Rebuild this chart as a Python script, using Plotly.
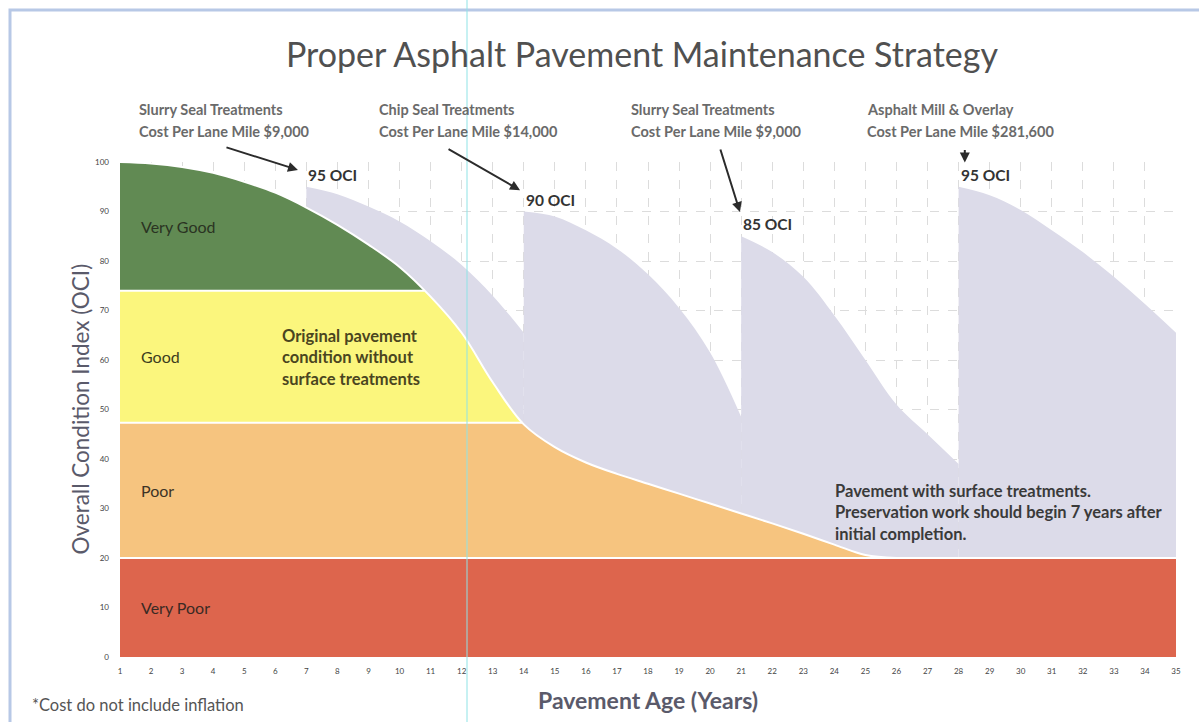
import plotly.graph_objects as go

# ---------------- data ----------------
# Original pavement condition (no surface treatments), OCI by pavement age
years_original = list(range(1, 27))
oci_original = [100, 99.7, 99, 97.8, 96, 93.8, 90.8, 87.3, 83.3, 78.8,
                72.8, 65.5, 55.5, 47, 42.4, 39.3, 37, 35, 33, 31,
                29, 27, 24.9, 22.7, 20.6, 20]

# Pavement with surface treatments: one decay segment after each treatment
treated_years = [list(range(7, 15)), list(range(14, 22)),
                 list(range(21, 29)), list(range(28, 36))]
treated_oci = [[95, 93.5, 91, 88, 84, 79.2, 73, 65.5],
               [90, 89, 86.2, 82.5, 77.3, 70.5, 61.5, 48.5],
               [85, 81.8, 76.8, 69, 60, 51, 45, 39],
               [95, 93.3, 90.3, 86.2, 81.8, 76.8, 71.3, 65.5]]

# Condition rating bands
band_names = ["Very Poor", "Poor", "Good", "Very Good"]
band_lo = [0, 20, 47.3, 74]
band_hi = [20, 47.3, 74, 100]

# Treatments
treat_year = [7, 14, 21, 28]
treat_oci = [95, 90, 85, 95]
treat_name = ["Slurry Seal Treatments", "Chip Seal Treatments",
              "Slurry Seal Treatments", "Asphalt Mill & Overlay"]
treat_cost = ["$9,000", "$14,000", "$9,000", "$281,600"]

x_ticks = list(range(1, 36))
y_ticks = list(range(0, 101, 10))

# ---------------- styling ----------------
FONT = "Lato, 'Open Sans', sans-serif"
band_colors = ["#dd654d", "#f6c47f", "#fbf67d", "#618a53"]
band_text = ["#3a2a24", "#3d3326", "#3d3d1e", "#2a3322"]
treated_color = "#dcdbe9"
grey_text = "#6a6a6a"
dark_text = "#3a3a3a"

# treatment header label placement (x in years) and arrow geometry
header_x = [1.55, 9.27, 17.39, 24.99]
arrow_dx = [-0.27, -0.12, -0.04, 0.2]
arrow_dy = [3.4, 4.3, 4.9, 4.9]
arrow_ax = [-73, -73, -20, 0]
arrow_ay = [-23, -42, -64, -14]


def band_edge(xs, ys, lo, hi):
    """Upper edge of a rating band: the curve capped at hi, until it falls to lo."""
    px, py = [], []
    for i, (x, y) in enumerate(zip(xs, ys)):
        if i > 0:
            x0, y0 = xs[i - 1], ys[i - 1]
            for level in (hi, lo):
                if (y0 - level) * (y - level) < 0:
                    px.append(x0 + (level - y0) * (x - x0) / (y - y0))
                    py.append(level)
        if y >= lo:
            px.append(x)
            py.append(min(y, hi))
    return px, py


fig = go.Figure()

# surface-treated pavement (drawn underneath the original condition bands)
for xs, ys in zip(treated_years, treated_oci):
    fig.add_trace(go.Scatter(x=xs, y=ys, mode="lines", fill="tozeroy",
                             fillcolor=treated_color,
                             line=dict(width=0, shape="spline", color=treated_color),
                             hoverinfo="skip", showlegend=False))

# "Very Poor" band spans the full age range
fig.add_trace(go.Scatter(x=[x_ticks[0], x_ticks[-1]], y=[band_hi[0], band_hi[0]],
                         mode="lines", fill="tozeroy", fillcolor=band_colors[0],
                         line=dict(width=0), hoverinfo="skip", showlegend=False))

# remaining bands are bounded by the original condition curve
for lo, hi, col in zip(band_lo[1:], band_hi[1:], band_colors[1:]):
    ex, ey = band_edge(years_original, oci_original, lo, hi)
    fig.add_trace(go.Scatter(x=[ex[0], ex[-1]], y=[lo, lo], mode="lines",
                             line=dict(width=0), hoverinfo="skip", showlegend=False))
    fig.add_trace(go.Scatter(x=ex, y=ey, mode="lines", fill="tonexty", fillcolor=col,
                             line=dict(width=0, shape="spline", color=col),
                             hoverinfo="skip", showlegend=False))

# white separators between bands and along the original curve
for lo in band_lo[1:]:
    ex, ey = band_edge(years_original, oci_original, lo, 100)
    x_end = ex[-1] if lo > band_lo[1] else x_ticks[-1]
    fig.add_trace(go.Scatter(x=[x_ticks[0], x_end], y=[lo, lo], mode="lines",
                             line=dict(width=2, color="white"),
                             hoverinfo="skip", showlegend=False))
fig.add_trace(go.Scatter(x=years_original, y=oci_original, mode="lines",
                         line=dict(width=2, color="white", shape="spline"),
                         hoverinfo="skip", showlegend=False))

annotations = []

# band names
for name, lo, hi, tc in zip(band_names, band_lo, band_hi, band_text):
    annotations.append(dict(x=1.62, y=(lo + hi) / 2, text=name, showarrow=False,
                            xanchor="left", yanchor="middle",
                            font=dict(family=FONT, size=16, color=tc)))

annotations.append(dict(x=6.15, y=60.6, showarrow=False, xanchor="left", yanchor="middle",
                        align="left",
                        text="<b>Original pavement<br>condition without<br>surface treatments</b>",
                        font=dict(family=FONT, size=16.5, color="#4a4520")))
annotations.append(dict(x=23.96, y=29.2, showarrow=False, xanchor="left", yanchor="middle",
                        align="left",
                        text="<b>Pavement with surface treatments.<br>"
                             "Preservation work should begin 7 years after<br>"
                             "initial completion.</b>",
                        font=dict(family=FONT, size=16.5, color=dark_text)))

# treatment headers, arrows and OCI labels
for i in range(len(treat_year)):
    annotations.append(dict(x=header_x[i], y=1.107, yref="paper", showarrow=False,
                            xanchor="left", yanchor="middle", text=f"<b>{treat_name[i]}</b>",
                            font=dict(family=FONT, size=14.5, color=grey_text)))
    annotations.append(dict(x=header_x[i], y=1.061, yref="paper", showarrow=False,
                            xanchor="left", yanchor="middle",
                            text=f"<b>Cost Per Lane Mile {treat_cost[i]}</b>",
                            font=dict(family=FONT, size=14.5, color=grey_text)))
    annotations.append(dict(x=treat_year[i] + arrow_dx[i], y=treat_oci[i] + arrow_dy[i],
                            text="", showarrow=True, arrowhead=2, arrowsize=1,
                            arrowwidth=2, arrowcolor="#2b2b2b",
                            ax=arrow_ax[i], ay=arrow_ay[i]))
    annotations.append(dict(x=treat_year[i], y=treat_oci[i] + 2.4, showarrow=False,
                            xanchor="left", yanchor="middle",
                            text=f"<b>{treat_oci[i]} OCI</b>",
                            font=dict(family=FONT, size=15.5, color="#333333")))

# axis titles and footnote
annotations.append(dict(x=(80 - 120) / 1056, y=0.5, xref="paper", yref="paper",
                        showarrow=False, xanchor="center", yanchor="middle",
                        textangle=-90, text="Overall Condition Index (OCI)",
                        font=dict(family=FONT, size=22.5, color="#5a5a6a")))
annotations.append(dict(x=(648 - 120) / 1056, y=(657 - 700) / 495, xref="paper",
                        yref="paper", showarrow=False, xanchor="center", yanchor="middle",
                        text="<b>Pavement Age (Years)</b>",
                        font=dict(family=FONT, size=23, color="#5a5a6a")))
annotations.append(dict(x=(30 - 120) / 1056, y=(657 - 705) / 495, xref="paper",
                        yref="paper", showarrow=False, xanchor="left", yanchor="middle",
                        text="*Cost do not include inflation",
                        font=dict(family=FONT, size=16.5, color="#555555")))

fig.update_layout(
    width=1199, height=722,
    margin=dict(l=120, r=23, t=162, b=65),
    paper_bgcolor="white", plot_bgcolor="white",
    title=dict(text="Proper Asphalt Pavement Maintenance Strategy",
               x=642 / 1199, xref="container", xanchor="center",
               y=1 - 55 / 722, yref="container", yanchor="middle",
               font=dict(family=FONT, size=34, color="#505050")),
    annotations=annotations,
    showlegend=False,
)

fig.update_xaxes(range=[1, 35], tickvals=x_ticks, showgrid=True,
                 gridcolor="#dcdcdc", griddash="dash", gridwidth=1,
                 zeroline=False, showline=False, ticks="", ticklabelstandoff=8,
                 tickfont=dict(family=FONT, size=8, color="#444444"))
fig.update_yaxes(range=[0, 100], tickvals=y_ticks, showgrid=True,
                 gridcolor="#dcdcdc", griddash="dash", gridwidth=1,
                 zeroline=False, showline=False, ticks="", ticklabelstandoff=10,
                 tickfont=dict(family=FONT, size=8, color="#444444"))

# page frame and guide line
fig.add_shape(type="rect", xref="paper", yref="paper",
              x0=(10 - 120) / 1056, x1=(1215 - 120) / 1056,
              y0=(657 - 740) / 495, y1=(657 - 10) / 495,
              line=dict(color="#b7c8e6", width=3), layer="below")
fig.add_shape(type="line", xref="paper", yref="paper",
              x0=(467 - 120) / 1056, x1=(467 - 120) / 1056,
              y0=(657 - 740) / 495, y1=(657 + 5) / 495,
              line=dict(color="#8fe3e6", width=1), layer="above")

fig.write_html("out.html")
